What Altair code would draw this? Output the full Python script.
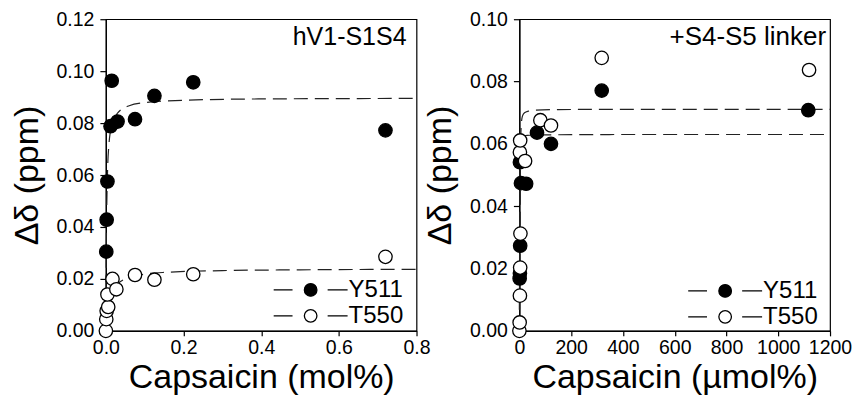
import altair as alt
import pandas as pd

FONT = "Liberation Sans"

# ---------------- Panel A: hV1-S1S4 (mol%) ----------------
a_y511_x = [0.001, 0.002, 0.004, 0.012, 0.015, 0.030, 0.075, 0.125, 0.225, 0.720]
a_y511_y = [0.0305, 0.0428, 0.0575, 0.0788, 0.0963, 0.0806, 0.0815, 0.0905, 0.0957, 0.0772]
a_t550_x = [0.000, 0.001, 0.002, 0.006, 0.004, 0.017, 0.027, 0.075, 0.125, 0.225, 0.720]
a_t550_y = [0.0000, 0.0045, 0.0077, 0.0092, 0.0140, 0.0200, 0.0160, 0.0215, 0.0197, 0.0218, 0.0285]

a_fit_y511_x = [0, 0.001, 0.002, 0.004, 0.008, 0.015, 0.03, 0.06, 0.1, 0.2, 0.4, 0.8]
a_fit_y511_y = [0, 0.030, 0.045, 0.060, 0.072, 0.079, 0.0838, 0.0867, 0.0879, 0.0888, 0.0893, 0.0895]
a_fit_t550_x = [0, 0.002, 0.005, 0.01, 0.02, 0.04, 0.08, 0.15, 0.3, 0.5, 0.8]
a_fit_t550_y = [0, 0.0040, 0.0080, 0.0120, 0.0160, 0.0192, 0.0213, 0.0225, 0.0232, 0.0235, 0.0237]

# ---------------- Panel B: +S4-S5 linker (µmol%) ----------------
b_y511_x = [1, 2, 3, 2, 6, 26, 68, 122, 318, 1116]
b_y511_y = [0.0168, 0.0185, 0.0273, 0.0541, 0.0474, 0.0472, 0.0636, 0.0600, 0.0771, 0.0708]
b_t550_x = [0, 1, 2, 3, 4, 2, 3, 22, 81, 122, 318, 1119]
b_t550_y = [0.0, 0.0027, 0.0113, 0.0203, 0.0312, 0.0573, 0.0611, 0.0545, 0.0676, 0.0659, 0.0876, 0.0837]

b_fit_y511_x = [0, 1, 2, 3, 5, 10, 30, 100, 400, 1200]
b_fit_y511_y = [0, 0.030, 0.050, 0.058, 0.0612, 0.0622, 0.0627, 0.0629, 0.0630, 0.0630]
b_fit_t550_x = [0, 2, 4, 6, 8, 12, 20, 35, 60, 150, 400, 1200]
b_fit_t550_y = [0, 0.030, 0.052, 0.064, 0.067, 0.0690, 0.0700, 0.0705, 0.0708, 0.0710, 0.0711, 0.0711]

SERIES = ["Y511", "T550"]

# legend glyph: dash - circle - dash
LEG_PATH = ("M-1,0H-0.49M0.46,0H1"
            "M-0.17,0A0.17,0.17 0 1,1 0.17,0A0.17,0.17 0 1,1 -0.17,0Z")


def panel(px1, py1, px2, py2, fx1, fy1, fx2, fy2, xdom, xticks, xfmt,
          ydom, yticks, xtitle, title, title_dx, title_size, lx, ly):
    pts = pd.DataFrame({
        "x": px1 + px2,
        "y": py1 + py2,
        "series": ["Y511"] * len(px1) + ["T550"] * len(px2),
    })
    fit = pd.DataFrame({
        "x": fx1 + fx2,
        "y": fy1 + fy2,
        "series": ["Y511"] * len(fx1) + ["T550"] * len(fx2),
    })
    xenc = alt.X("x:Q",
                 scale=alt.Scale(domain=xdom, nice=False, zero=False),
                 axis=alt.Axis(values=xticks, format=xfmt, title=xtitle,
                               tickSize=5, labelPadding=3, grid=False,
                               labelFlush=False, labelOverlap=False,
                               titlePadding=3))
    yenc = alt.Y("y:Q",
                 scale=alt.Scale(domain=ydom, nice=False, zero=False),
                 axis=alt.Axis(values=yticks, format=".2f", title="Δδ (ppm)",
                               tickSize=6, labelPadding=6, grid=False,
                               labelFlush=False, labelOverlap=False,
                               titlePadding=12))
    lines = alt.Chart(fit).mark_line(
        strokeDash=[14, 7], color="#222222", strokeWidth=1.2,
        interpolate="monotone"
    ).encode(x=xenc, y=yenc, detail="series:N")
    dots = alt.Chart(pts).mark_circle(
        size=180, stroke="black", strokeWidth=1.3, opacity=1
    ).encode(
        x=xenc, y=yenc,
        fill=alt.Fill("series:N",
                      scale=alt.Scale(domain=SERIES, range=["black", "white"]),
                      legend=alt.Legend(
                          title=None, orient="none", legendX=lx, legendY=ly,
                          symbolType=LEG_PATH, symbolSize=5476,
                          symbolStrokeColor="black", symbolStrokeWidth=1.3,
                          labelFont=FONT, labelFontSize=24, labelColor="black",
                          labelOffset=0, clipHeight=26, rowPadding=0,
                          padding=0, labelBaseline="middle")),
    )
    return alt.layer(lines, dots).properties(
        width=311, height=312,
        title=alt.TitleParams(text=title, anchor="end", frame="group",
                              offset=-41, dx=title_dx, fontSize=title_size,
                              font=FONT, fontWeight="normal", color="black"),
    )


left = panel(a_y511_x, a_y511_y, a_t550_x, a_t550_y,
             a_fit_y511_x, a_fit_y511_y, a_fit_t550_x, a_fit_t550_y,
             [0, 0.8], [0, 0.2, 0.4, 0.6, 0.8], ".1f",
             [0, 0.12], [0, 0.02, 0.04, 0.06, 0.08, 0.10, 0.12],
             "Capsaicin (mol%)", "hV1-S1S4", -10, 25, 167, 258)

right = panel(b_y511_x, b_y511_y, b_t550_x, b_t550_y,
              b_fit_y511_x, b_fit_y511_y, b_fit_t550_x, b_fit_t550_y,
              [0, 1200], [0, 200, 400, 600, 800, 1000, 1200], "d",
              [0, 0.10], [0, 0.02, 0.04, 0.06, 0.08, 0.10],
              "Capsaicin (µmol%)", "+S4-S5 linker", -4, 26, 168, 259)

chart = alt.hconcat(left, right, spacing=103, bounds="flush").resolve_scale(
    fill="independent", x="independent", y="independent"
).resolve_legend(fill="independent").configure(
    padding={"left": 1, "top": 0, "right": 0, "bottom": 0},
    background="white",
).configure_view(
    stroke="black", strokeWidth=1.2
).configure_axis(
    labelFont=FONT, titleFont=FONT, labelFontSize=19.5, titleFontSize=34,
    titleFontWeight="normal", labelColor="black", titleColor="black",
    domainColor="black", domainWidth=1.2, tickColor="black", tickWidth=1.2,
)

chart.save("out.html", embed_options={"renderer": "svg", "actions": False})
